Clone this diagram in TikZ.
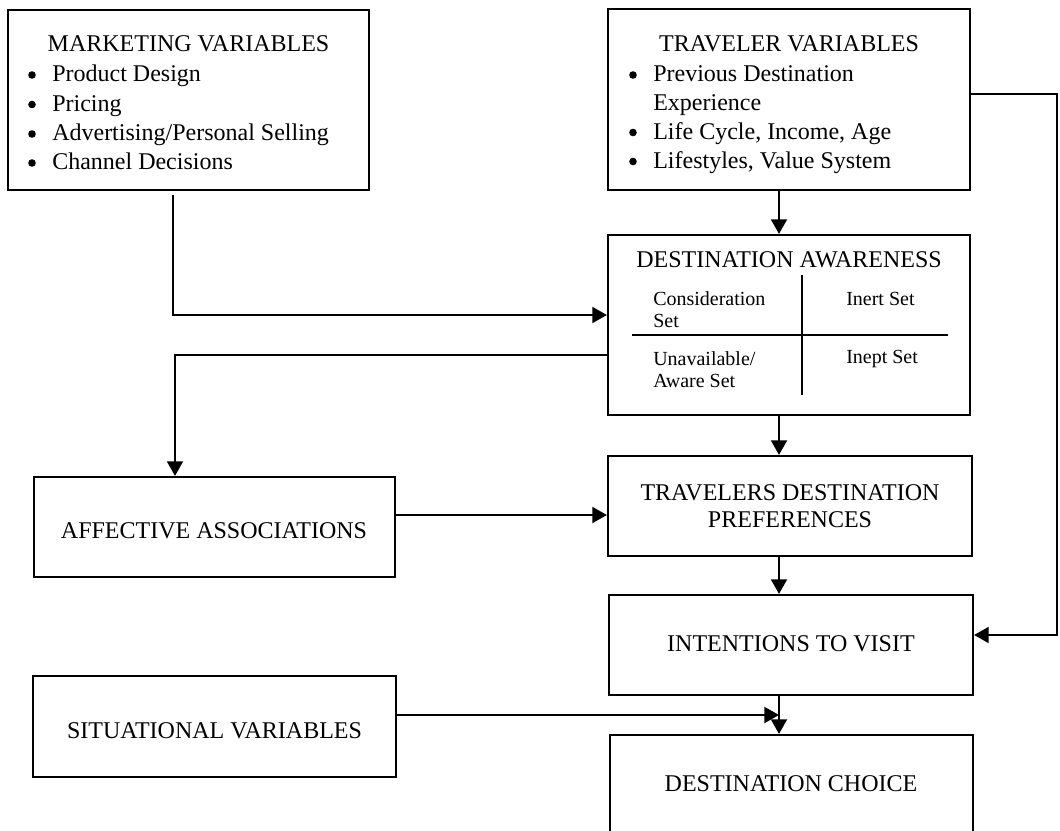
\documentclass[tikz,border=0pt]{standalone}
\usepackage{fontspec}
\setmainfont{Liberation Serif}
\usetikzlibrary{arrows.meta,fit,calc}

\begin{document}
\begin{tikzpicture}[x=0.75pt,y=-0.75pt,
  box/.style={draw, line width=1.6pt, inner sep=0pt, fit={#1}},
  title/.style={font=\fontsize{18pt}{21pt}\selectfont, inner sep=0pt, anchor=base},
  listline/.style={font=\fontsize{18pt}{21pt}\selectfont, inner sep=0pt, anchor=base west},
  cell/.style={font=\fontsize{15pt}{18pt}\selectfont, inner sep=0pt, anchor=base west},
  arr/.style={line width=1.5pt, -{Triangle[length=11pt,width=12pt]}},
  divider/.style={line width=1.3pt}
]
\useasboundingbox (0,0) rectangle (1060,831);
\fill[white] (0,0) rectangle (1060,831);
\clip (0,0) rectangle (1060,831);

% boxes
\node[box={(8,10)(369,190)}]    (mkt) {};
\node[box={(608,9)(970,190)}]   (trv) {};
\node[box={(608,235)(970,415)}] (da)  {};
\node[box={(34,477)(395,577)}]  (aff) {};
\node[box={(608,456)(972,556)}] (tdp) {};
\node[box={(609,595)(973,695)}] (itv) {};
\node[box={(33,676)(396,777)}]  (sit) {};
\node[box={(610,735)(973,836)}] (dc)  {};

% marketing variables
\node[title] (mktT) at (188.5,52) {MARKETING VARIABLES};
\node[listline] (mkt1) at (52,82)    {Product Design};
\node[listline] (mkt2) at (52,111.5) {Pricing};
\node[listline] (mkt3) at (52,141)   {Advertising/Personal Selling};
\node[listline] (mkt4) at (52,170)   {Channel Decisions};

% traveler variables
\node[title] (trvT) at (789,52) {TRAVELER VARIABLES};
\node[listline] (trv1)  at (653,82)    {Previous Destination};
\node[listline] (trv1b) at (653,110.5) {Experience};
\node[listline] (trv2)  at (653,139.5) {Life Cycle, Income, Age};
\node[listline] (trv3)  at (653,168.5) {Lifestyles, Value System};

% list bullets, set in front of each item
\foreach \item in {mkt1,mkt2,mkt3,mkt4,trv1,trv2,trv3}
  \fill ($(\item.base west)+(-20,-7)$) circle (3.8);

% destination awareness with its four sets
\node[title] (daT) at (789,267) {DESTINATION AWARENESS};
\draw[divider] (802,275) -- (802,395);
\draw[divider] (632,335) -- (948,335);
\node[cell] (cs1) at (653,305) {Consideration};
\node[cell] (cs2) at (653,327) {Set};
\node[cell] (ins) at (846,305) {Inert Set};
\node[cell] (ua1) at (653,365) {Unavailable/};
\node[cell] (ua2) at (653,387) {Aware Set};
\node[cell] (ips) at (846,363) {Inept Set};

% single-label boxes
\node[title] (affT) at (214,538) {AFFECTIVE ASSOCIATIONS};
\node[title] (tdpT1) at (790,500) {TRAVELERS DESTINATION};
\node[title] (tdpT2) at (790,527) {PREFERENCES};
\node[title] (itvT) at (791,651) {INTENTIONS TO VISIT};
\node[title] (sitT) at (214.5,738) {SITUATIONAL VARIABLES};
\node[title] (dcT) at (791,791) {DESTINATION CHOICE};

% routing points
\coordinate (colx)   at (779,0);
\coordinate (mkout)  at (173,195);
\coordinate (mkrow)  at (0,315);
\coordinate (darow)  at (0,355);
\coordinate (affcol) at (175,0);
\coordinate (affrow) at (0,515);
\coordinate (trvrow) at (0,94);
\coordinate (rx)     at (1057,0);
\coordinate (itvrow) at (0,635);
\coordinate (sitrow) at (0,715);
\coordinate (join)   at (779,715);

% connectors
\draw[arr] (mkout) |- (da.west |- mkrow);
\draw[arr] (trv.south -| colx) -- (da.north -| colx);
\draw[arr] (da.west |- darow) -| (affcol |- aff.north);
\draw[arr] (aff.east |- affrow) -- (tdp.west |- affrow);
\draw[arr] (da.south -| colx) -- (tdp.north -| colx);
\draw[arr] (tdp.south -| colx) -- (itv.north -| colx);
\draw[arr] (trv.east |- trvrow) -| (rx |- itvrow) -- (itv.east |- itvrow);
\draw[arr] (itv.south -| colx) -- (dc.north -| colx);
\draw[arr] (sit.east |- sitrow) -- (join);
\end{tikzpicture}
\end{document}
